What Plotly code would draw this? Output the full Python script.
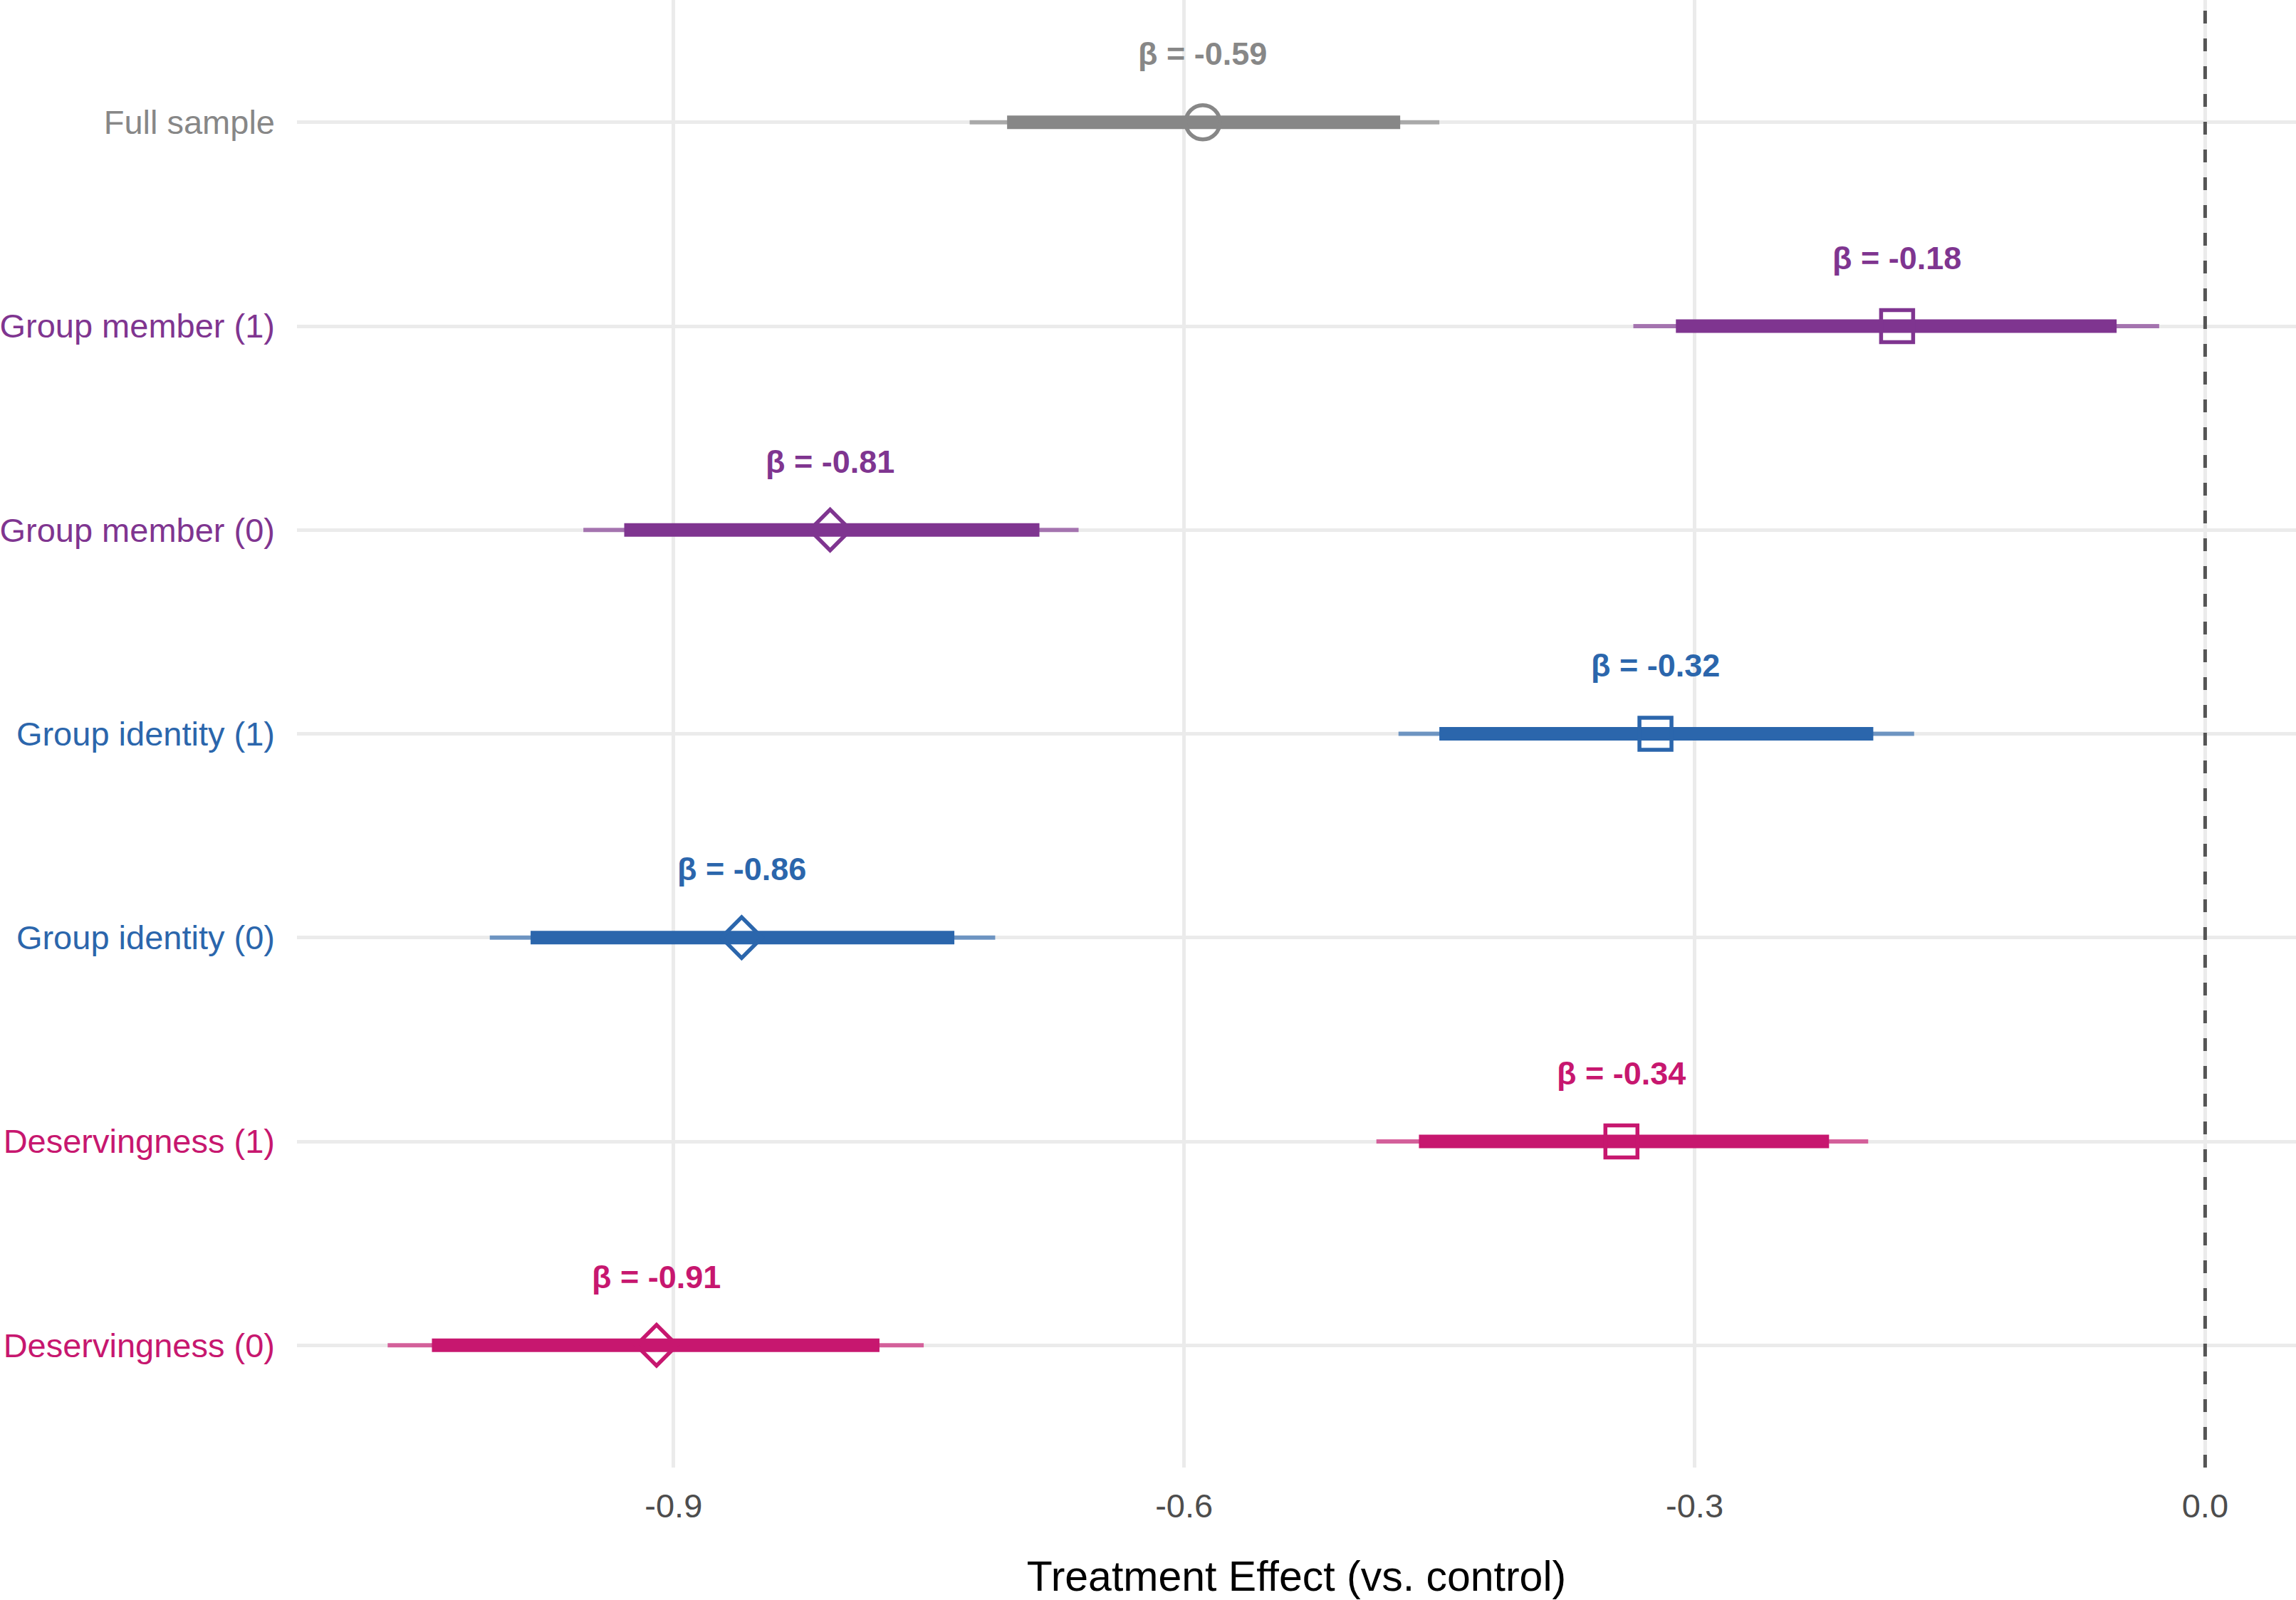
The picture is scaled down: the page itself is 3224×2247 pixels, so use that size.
import plotly.graph_objects as go

# rows, top to bottom
labels = ["Full sample", "Group member (1)", "Group member (0)", "Group identity (1)",
          "Group identity (0)", "Deservingness (1)", "Deservingness (0)"]
groups = ["full", "member", "member", "identity", "identity", "deserv", "deserv"]
symbols = ["circle", "square", "diamond", "square", "diamond", "square", "diamond"]
estimates = [-0.589, -0.181, -0.808, -0.323, -0.860, -0.343, -0.910]
ci_outer_low = [-0.726, -0.336, -0.953, -0.474, -1.008, -0.487, -1.068]
ci_outer_high = [-0.450, -0.027, -0.662, -0.171, -0.711, -0.198, -0.753]
ci_inner_low = [-0.704, -0.311, -0.929, -0.450, -0.984, -0.462, -1.042]
ci_inner_high = [-0.473, -0.052, -0.685, -0.195, -0.735, -0.221, -0.779]
x_tick_vals = [-0.9, -0.6, -0.3, 0.0]
x_tick_text = ["-0.9", "-0.6", "-0.3", "0.0"]

colors = {"full": "#878787", "member": "#7F3590", "identity": "#2B66AC", "deserv": "#C7176F"}
marker_size = {"circle": 48, "square": 45, "diamond": 44}
FONT = "Liberation Sans, Arial, Helvetica, sans-serif"


def main():
    fig = go.Figure()

    for i, lab in enumerate(labels):
        col = colors[groups[i]]
        # outer interval (thin, faded)
        fig.add_trace(go.Scatter(x=[ci_outer_low[i], ci_outer_high[i]], y=[lab, lab], mode="lines",
                                 line=dict(color=col, width=6), opacity=0.65,
                                 showlegend=False, hoverinfo="skip"))
        # inner interval (thick)
        fig.add_trace(go.Scatter(x=[ci_inner_low[i], ci_inner_high[i]], y=[lab, lab], mode="lines",
                                 line=dict(color=col, width=19), showlegend=False, hoverinfo="skip"))
        # point estimate
        fig.add_trace(go.Scatter(x=[estimates[i]], y=[lab], mode="markers",
                                 marker=dict(symbol=symbols[i] + "-open", size=marker_size[symbols[i]],
                                             color=col, line=dict(color=col, width=5.5)),
                                 showlegend=False))
        fig.add_annotation(x=estimates[i], y=lab, yshift=96, showarrow=False,
                           text="<b>\u03b2 = {:.2f}</b>".format(estimates[i]),
                           font=dict(family=FONT, size=45, color=col))

    fig.add_vline(x=0, line=dict(color="#555555", width=5, dash="18px,21px"))

    tick_text = ["<span style='color:%s'>%s</span>" % (colors[g], l) for g, l in zip(groups, labels)]

    fig.update_layout(width=3224, height=2247, margin=dict(l=417, r=0, t=0, b=186),
                      paper_bgcolor="white", plot_bgcolor="white",
                      font=dict(family=FONT, size=46, color="#4D4D4D"))
    fig.update_xaxes(range=[-1.1213, 0.0534], tickvals=x_tick_vals, ticktext=x_tick_text,
                     showgrid=True, gridcolor="#EBEBEB", gridwidth=5, zeroline=False,
                     showline=False, ticks="", ticklabelstandoff=22,
                     tickfont=dict(size=47, color="#4D4D4D"),
                     title=dict(text="Treatment Effect (vs. control)", standoff=52,
                                font=dict(size=59, color="black")))
    fig.update_yaxes(type="category", categoryorder="array", categoryarray=labels,
                     range=[6.6, -0.6], tickvals=labels, ticktext=tick_text,
                     showgrid=True, gridcolor="#EBEBEB", gridwidth=5, zeroline=False,
                     showline=False, ticks="", ticklabelstandoff=30, tickfont=dict(size=47))
    # the page body has a default margin; drop it so the figure sits at the window corner
    fig.write_html("out.html", config={"displayModeBar": False},
                   post_script="document.body.style.margin='0';")


if __name__ == "__main__":
    main()
